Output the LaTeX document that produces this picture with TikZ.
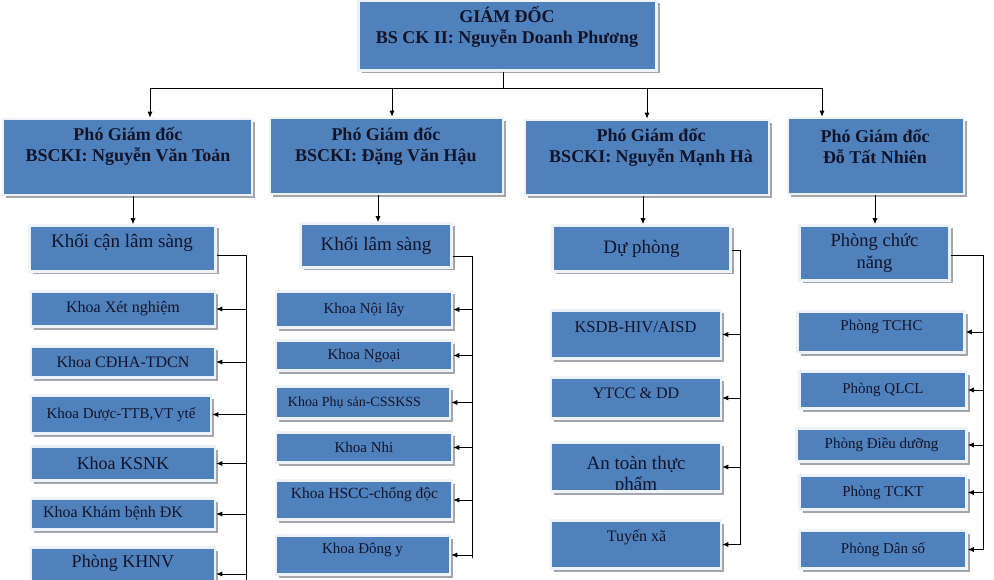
\documentclass[tikz,border=0pt]{standalone}
\usepackage{fontspec}
\setmainfont{Liberation Serif}
\usetikzlibrary{arrows.meta,shadows}
\definecolor{boxblue}{RGB}{79,129,189}
\definecolor{boxrim}{RGB}{238,242,250}
\definecolor{shade}{RGB}{165,165,172}
\definecolor{ink}{RGB}{20,20,40}

\begin{document}
\begin{tikzpicture}[x=1pt,y=-1pt,
    box/.style={draw=boxrim, line width=2.5pt, fill=boxblue, text=ink, align=center, inner sep=0pt,
      drop shadow={shadow xshift=3pt, shadow yshift=-3pt, fill=shade, opacity=1}},
    txt/.style={text=ink, align=center, inner sep=0pt},
    fs/.style={font=\fontsize{#1}{#1}\selectfont},
    boldf/.style={font=\bfseries\fontsize{18}{21}\selectfont},
    arr/.style={-{Latex[length=6pt,width=5pt]}, line width=0.9pt},
    link/.style={line width=0.9pt}]

\useasboundingbox (0,0) rectangle (994,580);

% giam doc
\node[box, minimum width=298pt, minimum height=70pt] (gd) at (507.5,35.5) {};
\node[txt, boldf] (gd-t) at (507,26.5) {GIÁM ĐỐC\\BS CK II: Nguyễn Doanh Phương};

% pho giam doc
\node[box, minimum width=249pt, minimum height=76pt] (pg1) at (127.5,157) {};
\node[txt, boldf] (pg1-t) at (128,146.5) {Phó Giám đốc\\BSCKI: Nguyễn Văn Toản};
\node[box, minimum width=233pt, minimum height=76pt] (pg2) at (386.5,156) {};
\node[txt, boldf] (pg2-t) at (386,146) {Phó Giám đốc\\BSCKI: Đặng Văn Hậu};
\node[box, minimum width=244pt, minimum height=75pt] (pg3) at (647,157.5) {};
\node[txt, boldf] (pg3-t) at (651,147) {Phó Giám đốc\\BSCKI: Nguyễn Mạnh Hà};
\node[box, minimum width=176pt, minimum height=76pt] (pg4) at (876,156) {};
\node[txt, boldf] (pg4-t) at (875,147) {Phó Giám đốc\\Đỗ Tất Nhiên};

% khoi
\node[box, minimum width=186pt, minimum height=46pt] (g1) at (122.5,248.5) {};
\node[txt, fs=19] (g1-t) at (122,243) {Khối cận lâm sàng};
\node[box, fs=19, minimum width=151pt, minimum height=44pt] (g2) at (376,245.5) {Khối lâm sàng};
\node[box, fs=19, minimum width=178pt, minimum height=46pt] (g3) at (641.5,248.5) {Dự phòng};
\node[box, font=\fontsize{18.5}{22}\selectfont, minimum width=150pt, minimum height=55pt] (g4) at (874.5,253) {Phòng chức\\năng};

% can lam sang
\node[box, fs=16, minimum width=184pt, minimum height=35pt] (xn) at (123,309) {Khoa Xét nghiệm};
\node[box, fs=16, minimum width=184pt, minimum height=31pt] (cd) at (123,362) {Khoa CĐHA-TDCN};
\node[box, fs=15, minimum width=180pt, minimum height=38pt] (du) at (121,414.5) {Khoa Dược-TTB,VT ytế};
\node[box, fs=18, minimum width=184pt, minimum height=34pt] (ks) at (123,463.5) {Khoa KSNK};
\node[box, minimum width=184pt, minimum height=31pt] (kb) at (123,514) {};
\node[txt, fs=16] (kb-t) at (113,513) {Khoa Khám bệnh ĐK};
\node[box, minimum width=184pt, minimum height=53pt] (kh) at (123,574) {};
\node[txt, fs=18] (kh-t) at (123,563) {Phòng KHNV};

% lam sang
\node[box, fs=15, minimum width=176pt, minimum height=36pt] (nl) at (364,309.5) {Khoa Nội lây};
\node[box, fs=15, minimum width=176pt, minimum height=30pt] (ng) at (364,355.5) {Khoa Ngoại};
\node[box, minimum width=174pt, minimum height=32pt] (ps) at (363,402.5) {};
\node[txt, fs=14] (ps-t) at (354.5,403) {Khoa Phụ sản-CSSKSS};
\node[box, fs=15, minimum width=176pt, minimum height=30pt] (nh) at (364,447.5) {Khoa Nhi};
\node[box, minimum width=176pt, minimum height=39pt] (hs) at (364,500) {};
\node[txt, fs=15.5] (hs-t) at (364.5,495) {Khoa HSCC-chống độc};
\node[box, minimum width=174pt, minimum height=39pt] (dy) at (363,555) {};
\node[txt, fs=15] (dy-t) at (362.5,550) {Khoa Đông y};

% du phong
\node[box, minimum width=170pt, minimum height=48pt] (kd) at (636,334.5) {};
\node[txt, fs=16.5] (kd-t) at (635.5,327) {KSDB-HIV/AISD};
\node[box, minimum width=170pt, minimum height=41pt] (yt) at (636,398) {};
\node[txt, fs=16] (yt-t) at (636,393) {YTCC \& DD};
\node[box, minimum width=170pt, minimum height=49pt,
  path picture={\node[txt, font=\fontsize{19}{21}\selectfont] (at-t)
    at ([yshift=-8.5pt]path picture bounding box.center) {An toàn thực\\phẩm};}] (at) at (636,467) {};
\node[box, minimum width=170pt, minimum height=48pt] (tx) at (636,544.5) {};
\node[txt, fs=16] (tx-t) at (636.5,537) {Tuyến xã};

% phong chuc nang
\node[box, minimum width=167pt, minimum height=41pt] (tc) at (881,332) {};
\node[txt, fs=15] (tc-t) at (881.5,327) {Phòng TCHC};
\node[box, fs=15, minimum width=167pt, minimum height=37pt] (ql) at (883,390) {Phòng QLCL};
\node[box, fs=15, minimum width=170pt, minimum height=33pt] (dd) at (881.5,445) {Phòng Điều dưỡng};
\node[box, fs=15, minimum width=167pt, minimum height=34pt] (tk) at (883,492.5) {Phòng TCKT};
\node[box, fs=15, minimum width=167pt, minimum height=38pt] (ds) at (883,549.5) {Phòng Dân số};

% giam doc -> pho giam doc
\coordinate (top) at (503,88);
\coordinate (t1) at (150,88);
\coordinate (t2) at (392,88);
\coordinate (t3) at (647,88);
\coordinate (t4) at (822,88);
\draw[link] (gd.south -| top) -- (top);
\draw[link] (t1) -- (t4);
\foreach \i in {1,2,3,4}
  \draw[arr] (t\i) -- (t\i |- pg\i.north);

% pho giam doc -> khoi
\coordinate (d1) at (133,200);
\coordinate (d2) at (378,200);
\coordinate (d3) at (643,200);
\coordinate (d4) at (875,200);
\foreach \i in {1,2,3,4}
  \draw[arr] (pg\i.south -| d\i) -- (g\i.north -| d\i);

% khoi -> khoa, phong
\coordinate (b1) at (246,255);
\coordinate (e1) at (246,580);
\draw[link] (g1.east |- b1) -- (b1) -- (e1);
\foreach \n in {xn,cd,du,ks,kb,kh}
  \draw[arr] (b1 |- \n.east) -- (\n.east);

\coordinate (b2) at (472,256);
\coordinate (e2) at (472,558);
\draw[link] (g2.east |- b2) -- (b2) -- (e2);
\foreach \n in {nl,ng,ps,nh,hs,dy}
  \draw[arr] (b2 |- \n.east) -- (\n.east);

\coordinate (b3) at (740,250);
\draw[link] (g3.east |- b3) -- (b3) -- (b3 |- tx.east);
\foreach \n in {kd,yt,at,tx}
  \draw[arr] (b3 |- \n.east) -- (\n.east);

\coordinate (b4) at (983,255);
\draw[link] (g4.east |- b4) -- (b4) -- (b4 |- ds.east);
\foreach \n in {tc,ql,dd,tk,ds}
  \draw[arr] (b4 |- \n.east) -- (\n.east);
\end{tikzpicture}
\end{document}
